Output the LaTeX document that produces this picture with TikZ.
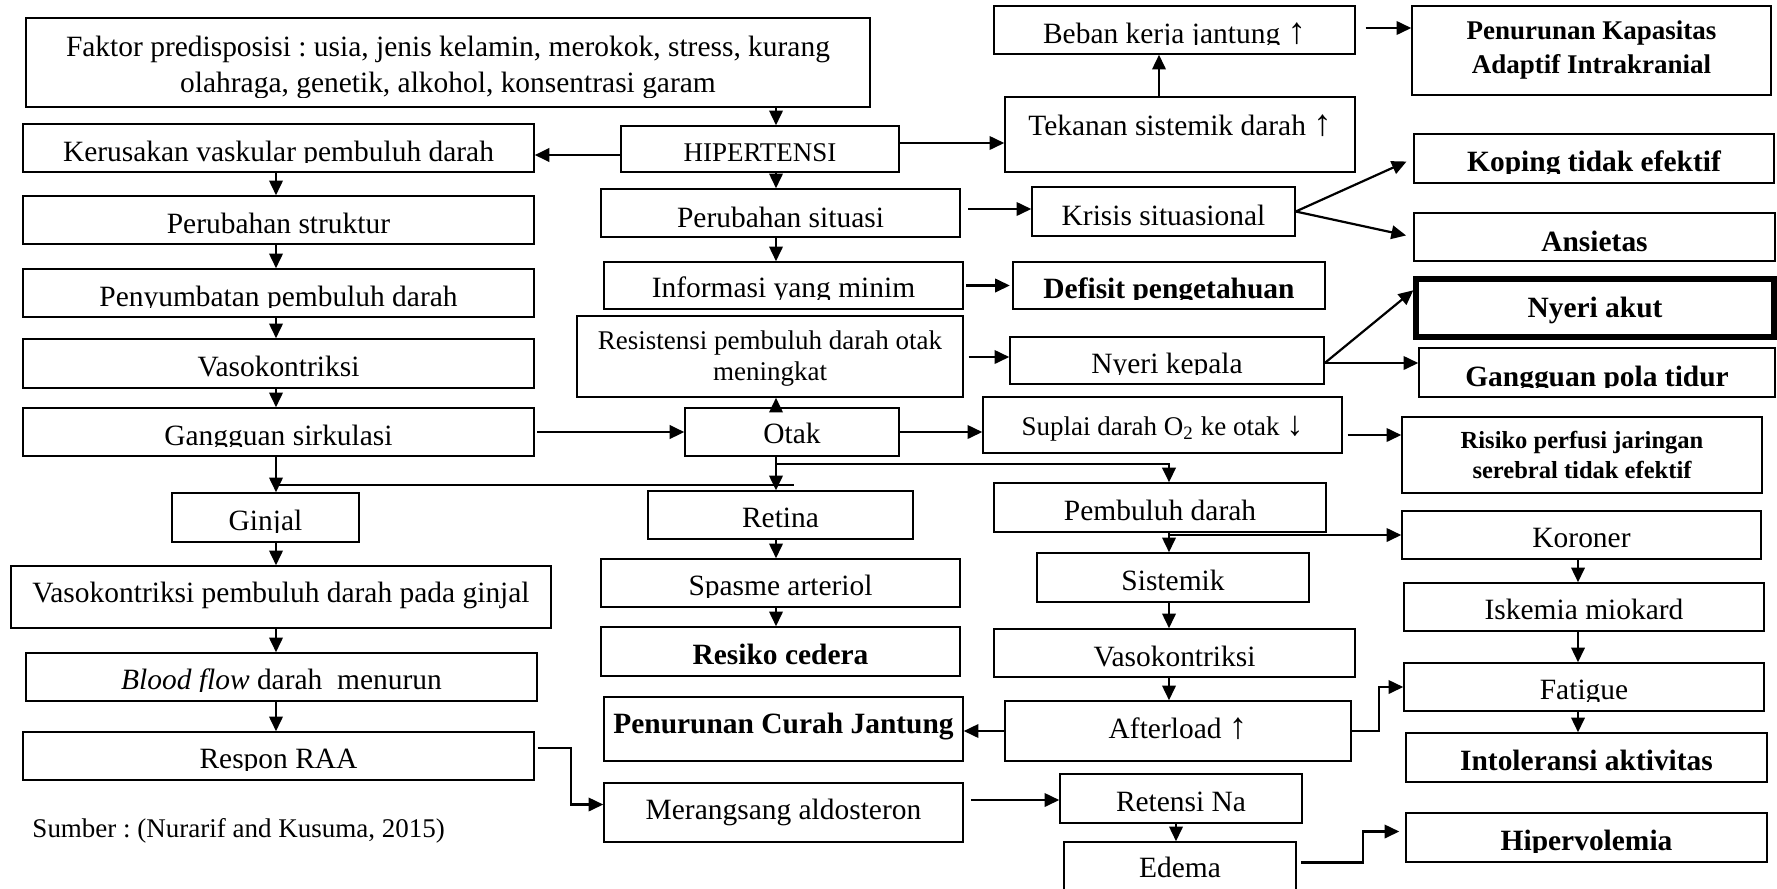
\documentclass[tikz,border=0pt]{standalone}
\usepackage{fontspec}
\setmainfont{Liberation Serif}
\frenchspacing
\usetikzlibrary{arrows.meta,calc,fit}
\tikzset{
 box/.style={draw, line width=0.6pt, inner sep=0pt, rectangle},
 thickbox/.style={line width=2.2pt},
 t12/.style={font=\fontsize{12}{14.3}\selectfont},
 t11/.style={font=\fontsize{11}{12.6}\selectfont},
 b12/.style={font=\fontsize{12}{14.3}\selectfont\bfseries},
 b11/.style={font=\fontsize{11}{13.45}\selectfont\bfseries},
 b10/.style={font=\fontsize{10}{12.2}\selectfont\bfseries},
 txt/.style={inner sep=0pt, align=center, t12},
 arr/.style={-{Triangle[length=6pt,width=5.5pt]}, line width=0.9pt},
 ln/.style={line width=1.1pt},
}
\newcommand\upar{{\fontsize{15}{15}\selectfont ↑}}
\newcommand\dnar{{\fontsize{14}{14}\selectfont ↓}}
\newcommand\BX[8][]{%
  \node[box,#1,fit={(#3,#4)(#5,#6)}] (#2) {};
  \begin{scope}
    \clip (#3,#4) rectangle (#5,#6-10);
    \node[txt,#1,anchor=base] (#2-t) at ({(#3+#5)/2},#7) {#8};
  \end{scope}}
\begin{document}
\begin{tikzpicture}[x={(0.4075pt,0pt)},y={(0pt,-0.4075pt)}]
\fill[white] (0,0) rectangle (1777,888);
\useasboundingbox (0,0) rectangle (1777,888);
% left column
\BX{faktor}{26}{18}{870}{107}{92}{Faktor predisposisi : usia, jenis kelamin, merokok, stress, kurang\\olahraga, genetik, alkohol, konsentrasi garam}
\BX{kerus}{23}{124}{534}{172}{161}{Kerusakan vaskular pembuluh darah}
\BX{perstr}{23}{196}{534}{244}{233}{Perubahan struktur}
\BX{penyum}{23}{269}{534}{317}{306}{Penyumbatan pembuluh darah}
\BX{vaso}{23}{339}{534}{388}{376}{Vasokontriksi}
\BX{gang}{23}{408}{534}{456}{445}{Gangguan sirkulasi}
\BX{ginjal}{172}{493}{359}{542}{530}{Ginjal}
\BX{vasog}{11}{566}{551}{628}{602}{Vasokontriksi pembuluh darah pada ginjal}
\BX{blood}{26}{653}{537}{701}{689}{\textit{Blood flow} darah\ \ menurun}
\BX{respon}{23}{732}{534}{780}{768}{Respon RAA}
\node[t11,anchor=base west,inner sep=0pt] (sumber) at (32,837) {Sumber : (Nurarif and Kusuma, 2015)};
% middle column
\BX[t11]{hip}{621}{126}{899}{172}{161}{HIPERTENSI}
\BX{persit}{601}{189}{960}{237}{227}{Perubahan situasi}
\BX{info}{604}{262}{963}{309}{297}{Informasi yang minim}
\BX[t11]{resist}{577}{316}{963}{397}{380}{Resistensi pembuluh darah otak\\meningkat}
\BX{otak}{685}{408}{899}{456}{443}{Otak}
\BX{retina}{648}{491}{913}{539}{527}{Retina}
\BX{spasme}{601}{559}{960}{607}{595}{Spasme arteriol}
\BX[b12]{cedera}{601}{627}{960}{676}{664}{Resiko cedera}
\BX[b12]{pcj}{604}{697}{963}{761}{733}{Penurunan Curah Jantung}
\BX{merang}{604}{783}{963}{842}{819}{Merangsang aldosteron}
% right-middle column
\BX{beban}{994}{6}{1355}{54}{43}{Beban kerja jantung \upar}
\BX{tekanan}{1005}{97}{1355}{172}{135}{Tekanan sistemik darah \upar}
\BX{krisis}{1032}{187}{1295}{236}{225}{Krisis situasional}
\BX[b12]{defisit}{1013}{262}{1325}{309}{298}{Defisit pengetahuan}
\BX{nyerik}{1010}{337}{1324}{384}{373}{Nyeri kepala}
\BX[t11]{suplai}{983}{397}{1342}{453}{435}{Suplai darah O\textsubscript{2} ke otak \dnar}
\BX{pembuluh}{994}{483}{1326}{532}{520}{Pembuluh darah}
\BX{sistemik}{1037}{553}{1309}{602}{590}{Sistemik}
\BX{vaso2}{994}{629}{1355}{677}{666}{Vasokontriksi}
\BX{after}{1005}{701}{1351}{761}{738}{Afterload \upar}
\BX{retensi}{1060}{774}{1302}{823}{811}{Retensi Na}
\BX{edema}{1064}{842}{1296}{895}{877}{Edema}
% far right column
\BX[b11]{kapasitas}{1412}{6}{1771}{95}{73}{Penurunan Kapasitas\\Adaptif Intrakranial}
\BX[b12]{koping}{1414}{134}{1774}{183}{171}{Koping tidak efektif}
\BX[b12]{ansietas}{1414}{213}{1775}{261}{251}{Ansietas}
\BX[b12,thickbox]{nyeriakut}{1416}{279}{1774}{337}{317}{Nyeri akut}
\BX[b12]{gpt}{1419}{348}{1775}{397}{386}{Gangguan pola tidur}
\BX[b10]{risiko}{1402}{417}{1762}{493}{478}{Risiko perfusi jaringan\\serebral tidak efektif}
\BX{koroner}{1402}{511}{1761}{559}{547}{Koroner}
\BX{iskemia}{1404}{583}{1764}{631}{619}{Iskemia miokard}
\BX{fatigue}{1404}{663}{1764}{711}{699}{Fatigue}
\BX[b12]{intol}{1406}{733}{1767}{782}{770}{Intoleransi aktivitas}
\BX[b12]{hiper}{1406}{813}{1767}{862}{850}{Hipervolemia}
% helper coordinates
\coordinate (cL) at (276,0);
\coordinate (cM) at (776,0);
\coordinate (cR) at (1169,0);
\coordinate (cF) at (1578,0);
\coordinate (cT) at (1159,0);
\coordinate (cE) at (1176,0);
\coordinate (r28) at (0,28);
\coordinate (r143) at (0,143);
\coordinate (r155) at (0,155);
\coordinate (r209) at (0,209);
\coordinate (r357) at (0,357);
\coordinate (r363) at (0,363);
\coordinate (r435) at (0,435);
\coordinate (r464) at (0,464);
\coordinate (r485) at (0,485);
\coordinate (r800) at (0,800);
\coordinate (forkEnd) at (794,485);
% connectors: left column
\draw[arr] (kerus.south -| cL) -- (perstr.north -| cL);
\draw[arr] (perstr.south -| cL) -- (penyum.north -| cL);
\draw[arr] (penyum.south -| cL) -- (vaso.north -| cL);
\draw[arr] (vaso.south -| cL) -- (gang.north -| cL);
\draw[arr] (gang.south -| cL) -- (ginjal.north -| cL);
\draw[ln] (cL |- r485) -- (forkEnd);
\draw[arr] (ginjal.south -| cL) -- (vasog.north -| cL);
\draw[arr] (vasog.south -| cL) -- (blood.north -| cL);
\draw[arr] (blood.south -| cL) -- (respon.north -| cL);
\draw[arr] ($(respon.east)+(3,-8)$) -- ++(33,0) |- ($(merang.west)+(0,-8)$);
% middle column
\draw[arr] (faktor.south -| cM) -- (hip.north -| cM);
\draw[arr,line width=1.2pt] (hip.west |- r155) -- (kerus.east |- r155);
\draw[arr] (hip.east |- r143) -- (tekanan.west |- r143);
\draw[arr] (hip.south -| cM) -- (persit.north -| cM);
\draw[arr] (persit.south -| cM) -- (info.north -| cM);
\draw[arr] (otak.north -| cM) -- (resist.south -| cM);
\draw[arr,line width=1.2pt,shorten <=1pt] (gang.east) -- (otak.west);
\draw[arr] (otak.east) -- (suplai.west |- otak.east);
\draw[arr] (otak.south -| cM) -- (retina.north -| cM);
\draw[arr,ln] (cM |- r464) -- (cR |- r464) -- (pembuluh.north -| cR);
\draw[arr] (retina.south -| cM) -- (spasme.north -| cM);
\draw[arr] (spasme.south -| cM) -- (cedera.north -| cM);
\draw[arr,shorten <=3pt] (merang.east |- r800) -- (retensi.west |- r800);
% right-middle column
\draw[arr] (tekanan.north -| cT) -- (beban.south -| cT);
\draw[arr,shorten <=4pt] (beban.east |- r28) -- (kapasitas.west |- r28);
\draw[arr,shorten <=3pt] (persit.east |- r209) -- (krisis.west |- r209);
\draw[arr,shorten >=3pt] (krisis.east) -- (koping.west);
\draw[arr,shorten >=3pt] (krisis.east) -- (ansietas.west);
\draw[arr,shorten <=1pt,shorten >=1pt] (info.east) -- (defisit.west);
\draw[arr,shorten <=2pt] (resist.east |- r357) -- (nyerik.west |- r357);
\draw[arr] (nyerik.east |- r363) -- ($(nyeriakut.north west)+(0,14)$);
\draw[arr] (nyerik.east |- r363) -- (gpt.west |- r363);
\draw[arr,shorten <=2pt] (suplai.east |- r435) -- (risiko.west |- r435);
\draw[arr] (pembuluh.south -| cR) -- (sistemik.north -| cR);
\draw[arr] (cR |- koroner.west) -- (koroner.west);
\draw[arr] (sistemik.south -| cR) -- (vaso2.north -| cR);
\draw[arr] (vaso2.south -| cR) -- (after.north -| cR);
\draw[arr] (after.west) -- (pcj.east |- after.west);
\draw[arr] (after.east) -- ++(27,0) |- (fatigue.west);
\draw[arr] (retensi.south -| cE) -- (edema.north -| cE);
\draw[arr] ($(edema.east)+(4,-6)$) -- ++(62,0) |- ($(hiper.west)+(-6,-6)$);
% far right column
\draw[arr] (koroner.south -| cF) -- (iskemia.north -| cF);
\draw[arr] (iskemia.south -| cF) -- (fatigue.north -| cF);
\draw[arr] (fatigue.south -| cF) -- (intol.north -| cF);
\end{tikzpicture}
\end{document}
